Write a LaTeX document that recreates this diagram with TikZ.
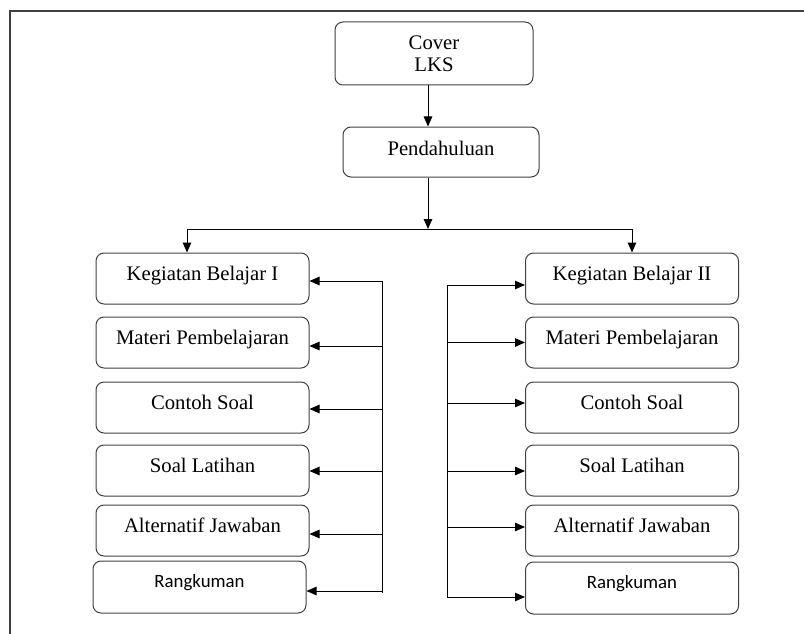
\documentclass[tikz,border=0pt]{standalone}
\usepackage{fontspec}
\setmainfont{Liberation Serif}
\newfontfamily\rangfont{Carlito}
\usetikzlibrary{arrows.meta,calc}

\tikzset{
  boxbase/.style={draw=black!75, line width=1pt, rounded corners=8pt, inner sep=0pt,
    font=\fontsize{20.7}{22}\selectfont},
  box/.style={boxbase, minimum width=213pt, text height=27pt, text depth=24pt},
  sumbox/.style={box, font=\rangfont\fontsize{18.8}{20}\selectfont, text height=26pt, text depth=26pt},
  arr/.style={line width=1pt, -{Triangle[length=10pt,width=8.5pt]}},
}

\begin{document}
\begin{tikzpicture}[x=1pt,y=-1pt]
    \useasboundingbox (0,0) rectangle (804,634);
    \draw[line width=1.2pt,black!75] (10,634) -- (10,11) -- (804,11);

    % atas
    \node[boxbase, align=center, minimum width=198pt, minimum height=63pt] (cover) at (434,53.5) {Cover\\LKS};
    \node[boxbase, minimum width=196pt, text height=28pt, text depth=22pt] (pend) at (441,152) {Pendahuluan};
    \coordinate (axis) at (428,0);
    \coordinate (split) at (428,229);
    \draw[arr] (cover.south -| axis) -- (pend.north -| axis);
    \draw[arr] (pend.south -| axis) -- (split);

    % kegiatan belajar I
    \node[box] (kb1) at (202.5,278.5) {Kegiatan Belajar I};
    \node[box] (materi1) at (202.5,342.5) {Materi Pembelajaran};
    \node[box] (contoh1) at (202.5,407.5) {Contoh Soal};
    \node[box] (latihan1) at (202.5,470.5) {Soal Latihan};
    \node[box] (jawab1) at (202.5,530.5) {Alternatif Jawaban};
    \node[sumbox] (rangkum1) at (199.5,587) {Rangkuman};

    % kegiatan belajar II
    \node[box] (kb2) at (632,278.5) {Kegiatan Belajar II};
    \node[box] (materi2) at (632,342.5) {Materi Pembelajaran};
    \node[box] (contoh2) at (632,407.5) {Contoh Soal};
    \node[box] (latihan2) at (632,470.5) {Soal Latihan};
    \node[box] (jawab2) at (632,530.5) {Alternatif Jawaban};
    \node[sumbox] (rangkum2) at (632,588) {Rangkuman};

    \draw[arr] (split) -| ([xshift=-15.5pt]kb1.north);
    \draw[arr] (split) -| (kb2.north);

    % jalur kiri
    \coordinate (lt) at (382,281);
    \coordinate (lb) at (382,593);
    \draw[line width=1pt] (lt) -- (lb);
    \foreach \n/\d in {kb1/2.5, materi1/3.5, contoh1/1.5, latihan1/0.5, jawab1/3.5, rangkum1/4}{
        \coordinate (p) at ($(\n.east)+(0,\d)$);
        \draw[arr] (p -| lt) -- (p);
    }

    % jalur kanan
    \coordinate (rt) at (447,285);
    \coordinate (rb) at (447,597);
    \draw[line width=1pt] (rt) -- (rb);
    \foreach \n/\d in {kb2/6.5, materi2/0, contoh2/-4.5, latihan2/0.5, jawab2/-3.5, rangkum2/9}{
        \coordinate (p) at ($(\n.west)+(0,\d)$);
        \draw[arr] (p -| rt) -- (p);
    }
\end{tikzpicture}
\end{document}
